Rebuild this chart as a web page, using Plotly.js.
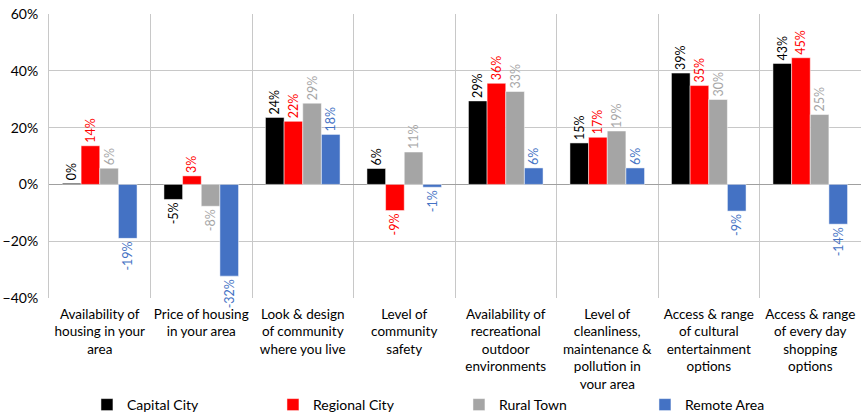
<!DOCTYPE html>
<html>
<head>
<meta charset="utf-8">
<script src="https://cdn.plot.ly/plotly-3.0.1.min.js"></script>
<style>html,body{margin:0;padding:0;background:#fff;}#chart{width:861px;height:412px;}</style>
</head>
<body>
<div id="chart"></div>
<script>
var categories = [
  "Availability of<br>housing in your<br>area",
  "Price of housing<br>in your area",
  "Look &amp; design<br>of community<br>where you live",
  "Level of<br>community<br>safety",
  "Availability of<br>recreational<br>outdoor<br>environments",
  "Level of<br>cleanliness,<br>maintenance &amp;<br>pollution in<br>your area",
  "Access &amp; range<br>of cultural<br>entertainment<br>options",
  "Access &amp; range<br>of every day<br>shopping<br>options"
];
var seriesNames = ["Capital City", "Regional City", "Rural Town", "Remote Area"];
var capitalCity  = [0.004, -0.053, 0.236, 0.056, 0.294, 0.146, 0.392, 0.426];
var regionalCity = [0.136, 0.030, 0.222, -0.092, 0.356, 0.166, 0.348, 0.446];
var ruralTown    = [0.057, -0.077, 0.286, 0.114, 0.327, 0.188, 0.299, 0.246];
var remoteArea   = [-0.190, -0.323, 0.176, -0.010, 0.058, 0.058, -0.094, -0.140];
var barColors  = ["#000000", "#ff0000", "#a5a5a5", "#4472c4"];
var textColors = ["#000000", "#ff0000", "#a6a6a6", "#4472c4"];
var allSeries = [capitalCity, regionalCity, ruralTown, remoteArea];

var traces = allSeries.map(function(vals, i){
  return {
    type: "bar",
    name: seriesNames[i],
    x: categories,
    y: vals,
    marker: {color: barColors[i], line: {color: "#ffffff", width: 0.5}},
    texttemplate: "%{y:.0%}",
    textposition: "outside",
    textangle: -90,
    constraintext: "none",
    cliponaxis: false,
    textfont: {family: "Lato, 'Open Sans', sans-serif", size: 12.5, color: textColors[i]},
    hoverinfo: "skip"
  };
});

var layout = {
  width: 861, height: 412,
  margin: {l: 49, r: 0, t: 14, b: 114},
  paper_bgcolor: "#ffffff", plot_bgcolor: "#ffffff",
  barmode: "group",
  bargap: 0.265,
  bargroupgap: 0,
  font: {family: "Lato, 'Open Sans', sans-serif", size: 13, color: "#000000"},
  xaxis: {
    type: "category",
    tickson: "boundaries",
    showgrid: true,
    gridcolor: "#c8c8c8",
    gridwidth: 1,
    ticks: "",
    showline: false,
    zeroline: false,
    tickangle: 0,
    ticklabelstandoff: 6,
    tickfont: {size: 13.5, color: "#000000"},
    automargin: false
  },
  yaxis: {
    range: [-0.4, 0.6],
    dtick: 0.2,
    tickformat: ".0%",
    showgrid: true,
    gridcolor: "#c8c8c8",
    gridwidth: 1,
    zeroline: true,
    zerolinecolor: "#a0a0a0",
    zerolinewidth: 1,
    showline: true,
    linecolor: "#c8c8c8",
    ticks: "",
    ticklabelstandoff: 7,
    tickfont: {size: 14, color: "#000000"},
    automargin: false
  },
  legend: {
    orientation: "h",
    xref: "container", yref: "container",
    x: 0.101, xanchor: "left",
    y: 0.017, yanchor: "middle",
    entrywidth: 141,
    entrywidthmode: "pixels",
    font: {size: 14, color: "#000000"},
    itemwidth: 30,
    traceorder: "normal"
  },
  showlegend: true
};

Plotly.newPlot("chart", traces, layout, {displayModeBar: false, staticPlot: true});
</script>
</body>
</html>
